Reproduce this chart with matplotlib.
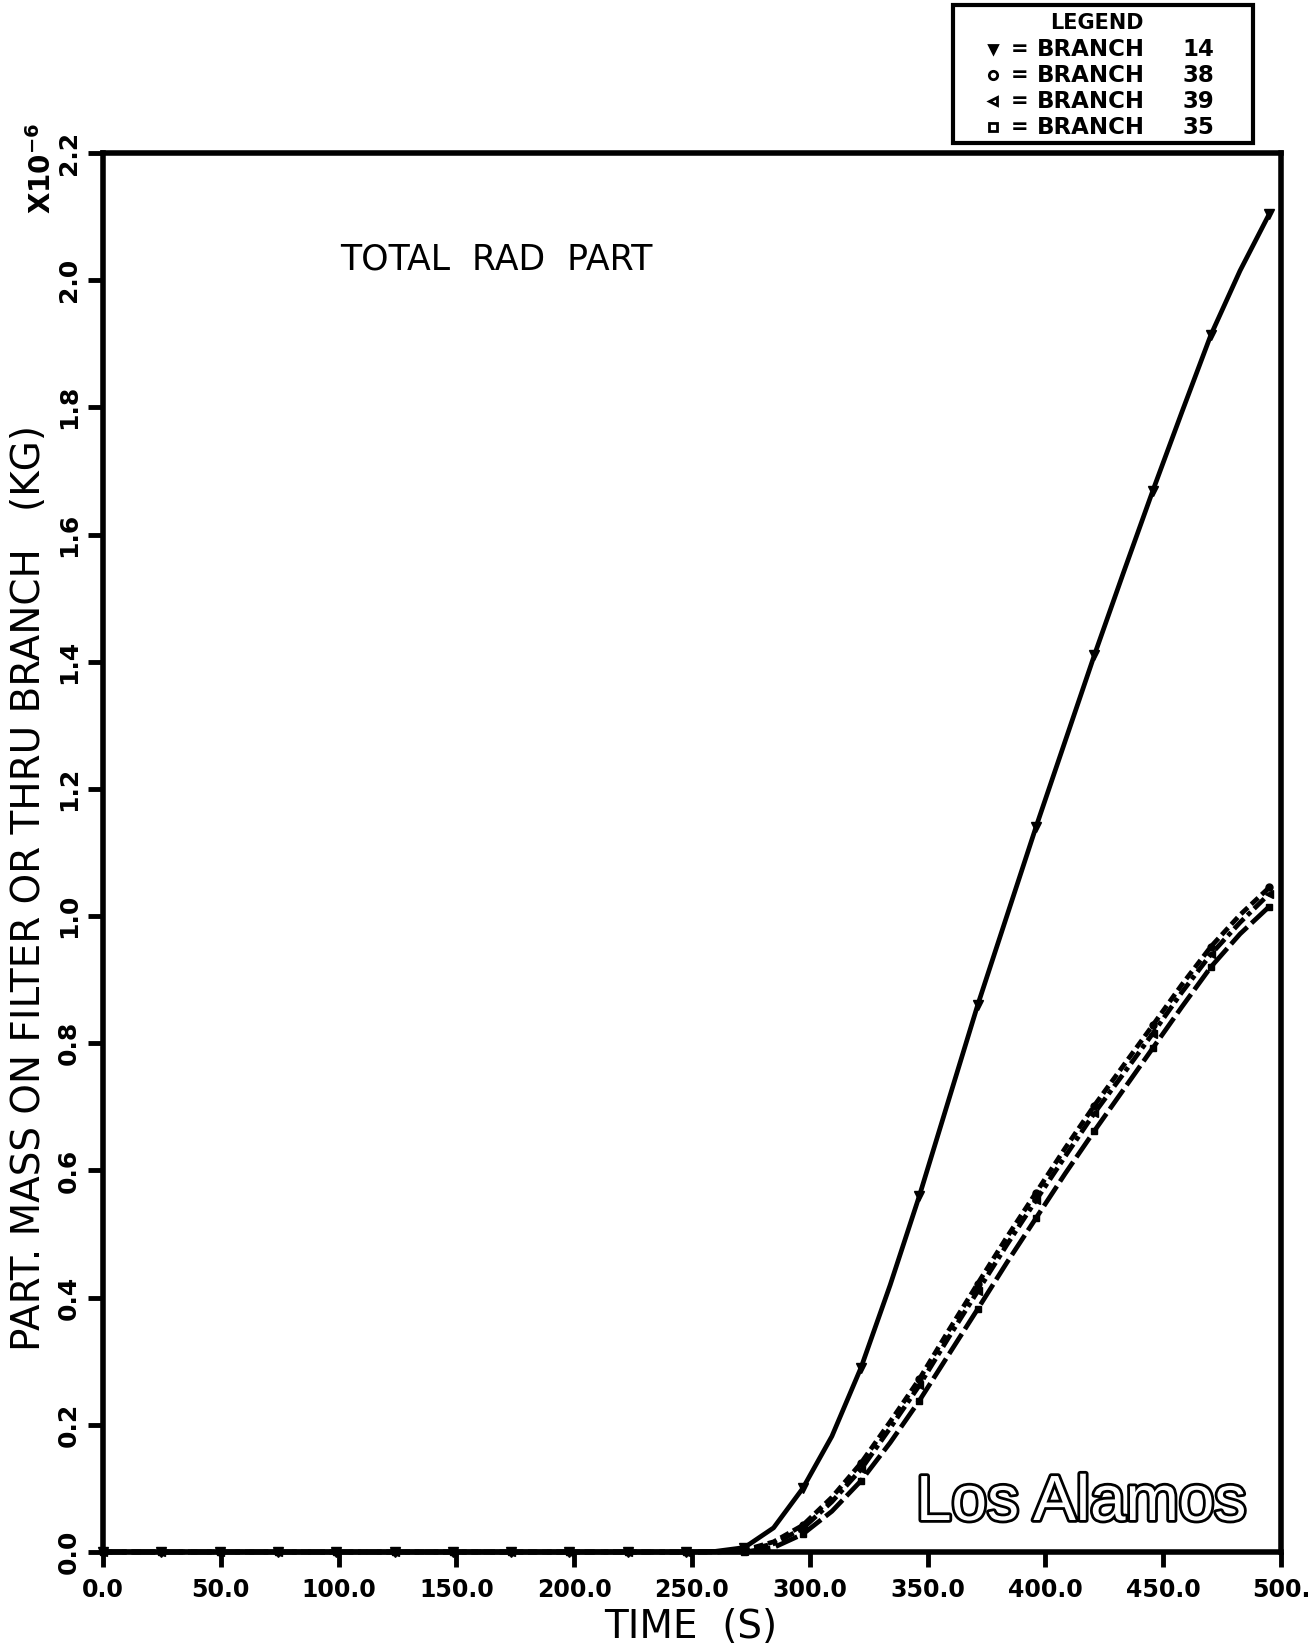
import matplotlib
matplotlib.use("Agg")
import matplotlib.pyplot as plt
from matplotlib.lines import Line2D
from matplotlib.patches import Rectangle
import matplotlib.patheffects as pe

# Simulation output times (s)
time_s = [0.0, 12.375, 24.75, 37.125, 49.5, 61.875, 74.25, 86.625, 99.0, 111.375,
          123.75, 136.125, 148.5, 160.875, 173.25, 185.625, 198.0, 210.375, 222.75,
          235.125, 247.5, 259.875, 272.25, 284.625, 297.0, 309.375, 321.75, 334.125,
          346.5, 358.875, 371.25, 383.625, 396.0, 408.375, 420.75, 433.125, 445.5,
          457.875, 470.25, 482.625, 495.0]

# Particulate mass on filter / through branch (x1e-6 kg)
branch_14 = [0.0] * 21 + [0.001, 0.007, 0.038, 0.100, 0.182, 0.290, 0.420, 0.560,
                          0.710, 0.860, 1.000, 1.140, 1.275, 1.410, 1.540, 1.668,
                          1.792, 1.914, 2.015, 2.104]
branch_38 = [0.0] * 22 + [0.003, 0.016, 0.042, 0.086, 0.140, 0.205, 0.272, 0.348,
                          0.422, 0.495, 0.565, 0.635, 0.702, 0.765, 0.828, 0.892,
                          0.952, 1.002, 1.045]
branch_39 = [0.0] * 22 + [0.002, 0.013, 0.037, 0.079, 0.130, 0.195, 0.262, 0.337,
                          0.410, 0.483, 0.553, 0.622, 0.690, 0.752, 0.815, 0.880,
                          0.940, 0.990, 1.035]
branch_35 = [0.0] * 22 + [0.000, 0.007, 0.028, 0.064, 0.112, 0.172, 0.238, 0.310,
                          0.382, 0.455, 0.525, 0.595, 0.662, 0.727, 0.792, 0.857,
                          0.920, 0.972, 1.015]

x_ticks = [0, 50, 100, 150, 200, 250, 300, 350, 400, 450, 500]
x_tick_labels = ["0.0", "50.0", "100.0", "150.0", "200.0", "250.0", "300.0",
                 "350.0", "400.0", "450.0", "500."]
y_ticks = [0.0, 0.2, 0.4, 0.6, 0.8, 1.0, 1.2, 1.4, 1.6, 1.8, 2.0, 2.2]
y_tick_labels = ["0.0", "0.2", "0.4", "0.6", "0.8", "1.0", "1.2", "1.4", "1.6",
                 "1.8", "2.0", "2.2"]

legend_names = ["BRANCH", "BRANCH", "BRANCH", "BRANCH"]
legend_numbers = ["14", "38", "39", "35"]

W, H = 1315, 1648
fig = plt.figure(figsize=(W / 100, H / 100), dpi=100)
fig.patch.set_facecolor("white")


def fx(px):
    return px / W


def fy(py):
    return 1 - py / H


ax = fig.add_axes([fx(103), fy(1552), fx(1281) - fx(103), fy(153) - fy(1552)])
ax.set_xlim(0, 500)
ax.set_ylim(0, 2.2)

lw = 3.4
common = dict(color="black", lw=lw, markevery=2, clip_on=False,
              markerfacecolor="black", markeredgecolor="black")
ax.plot(time_s, branch_35, ls=(0, (5, 1.2)), marker="s", ms=5, **common)
ax.plot(time_s, branch_39, ls=(0, (3, 1, 1, 1)), marker="<", ms=6, **common)
ax.plot(time_s, branch_38, ls=(0, (2, 1)), marker="o", ms=5, **common)
ax.plot(time_s, branch_14, ls="-", marker="v", ms=7, **common)

for s in ax.spines.values():
    s.set_linewidth(4)
ax.set_xticks(x_ticks)
ax.set_xticklabels(x_tick_labels, fontsize=17, fontweight="bold")
ax.set_yticks(y_ticks)
ax.set_yticklabels(y_tick_labels, fontsize=18, fontweight="bold",
                   rotation=90, va="center")
ax.tick_params(axis="both", direction="out", length=11, width=3.5, pad=8)
ax.tick_params(axis="y", pad=5)

fig.text(fx(691), fy(1627), "TIME  (S)", fontsize=28, ha="center", va="center")
fig.text(fx(29), fy(888), "PART. MASS ON FILTER OR THRU BRANCH   (KG)",
         fontsize=28, rotation=90, ha="center", va="center")
fig.text(fx(42), fy(168), r"X10$^{\mathbf{-6}}$", fontsize=20, fontweight="bold",
         rotation=90, ha="center", va="center")

fig.text(fx(496), fy(259), "TOTAL  RAD  PART", fontsize=25, ha="center",
         va="center")

los = fig.text(fx(1081), fy(1503), "Los Alamos", fontsize=46,
               family="Liberation Sans", color="white", ha="center", va="center")
los.set_path_effects([pe.Stroke(linewidth=4, foreground="black"), pe.Normal()])

# Legend box
fig.add_artist(Rectangle((fx(953), fy(143)), fx(1253) - fx(953), fy(5) - fy(143),
                         transform=fig.transFigure, fill=False, lw=3,
                         edgecolor="black"))
fig.text(fx(1097), fy(23), "LEGEND", fontsize=15, fontweight="bold",
         ha="center", va="center")
legend_markers = ["v", "o", "<", "s"]
legend_rows = [49, 75, 101, 127]
for mk, name, num, row in zip(legend_markers, legend_names, legend_numbers,
                              legend_rows):
    fig.add_artist(Line2D([fx(993)], [fy(row)], transform=fig.transFigure,
                          marker=mk, ms=6, color="black",
                          markerfacecolor="black" if mk == "v" else "white",
                          mew=2))
    fig.text(fx(1020), fy(row), "=", fontsize=15, fontweight="bold",
             ha="center", va="center")
    fig.text(fx(1037), fy(row), name, fontsize=16.5, fontweight="bold",
             ha="left", va="center")
    fig.text(fx(1198), fy(row), num, fontsize=16.5, fontweight="bold",
             ha="center", va="center")

fig.savefig("out.png", dpi=100, facecolor="white")
